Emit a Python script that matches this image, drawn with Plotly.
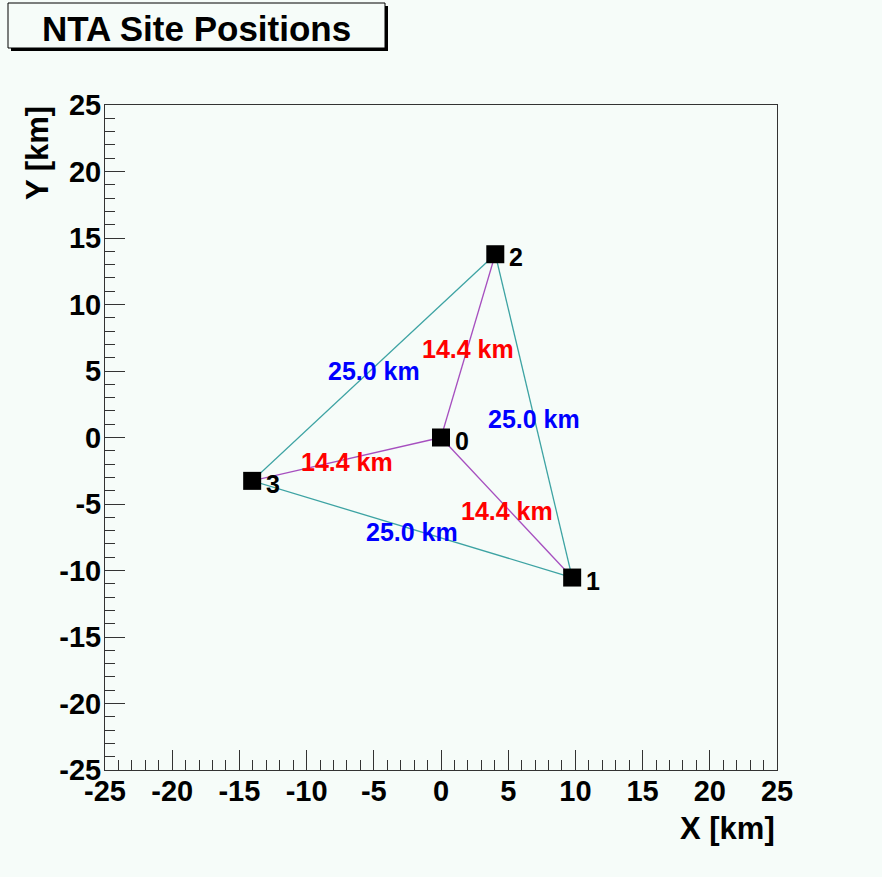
import plotly.graph_objects as go

# ---- data ----
site_ids = ["0", "1", "2", "3"]
site_x = [0.0, 9.76, 4.04, -14.05]
site_y = [0.0, -10.53, 13.78, -3.26]

outer_edges = [(3, 2), (2, 1), (3, 1)]
outer_labels = ["25.0 km", "25.0 km", "25.0 km"]
inner_edges = [(0, 2), (0, 3), (0, 1)]
inner_labels = ["14.4 km", "14.4 km", "14.4 km"]

tick_vals = [-25, -20, -15, -10, -5, 0, 5, 10, 15, 20, 25]
tick_text = ["-25", "-20", "-15", "-10", "-5", "0", "5", "10", "15", "20", "25"]

title_text = "NTA Site Positions"
x_title = "X [km]"
y_title = "Y [km]"

# ---- styling ----
BG = "#f6fcf9"
TEAL = "#3da3a3"
PURPLE = "#a64fbf"
FONT = "Liberation Sans"
W, H = 882, 877
L, R, T, B = 105, 777, 105, 770  # plot area in pixels


def px(xp):
    return (xp - L) / (R - L)


def py(yp):
    return (B - yp) / (B - T)


fig = go.Figure()


def edge_trace(edges, color):
    xs, ys = [], []
    for a, b in edges:
        xs += [site_x[a], site_x[b], None]
        ys += [site_y[a], site_y[b], None]
    return go.Scatter(x=xs, y=ys, mode="lines", line=dict(color=color, width=1.3),
                      hoverinfo="skip", showlegend=False)


fig.add_trace(edge_trace(outer_edges, TEAL))
fig.add_trace(edge_trace(inner_edges, PURPLE))
fig.add_trace(go.Scatter(x=site_x, y=site_y, mode="markers",
                         marker=dict(symbol="square", size=18, color="black",
                                     line=dict(width=0)),
                         showlegend=False))

annotations = []
for i, lab in enumerate(site_ids):
    annotations.append(dict(x=site_x[i], y=site_y[i], xref="x", yref="y", text=lab,
                            showarrow=False, xshift=21, yshift=-3,
                            font=dict(family=FONT, size=25, color="black", weight="bold")))


def edge_labels(edges, labels, color):
    for (a, b), lab in zip(edges, labels):
        annotations.append(dict(x=(site_x[a] + site_x[b]) / 2, y=(site_y[a] + site_y[b]) / 2,
                                xref="x", yref="y", text=lab, showarrow=False, yshift=-3,
                                font=dict(family=FONT, size=25, color=color, weight="bold")))


edge_labels(outer_edges, outer_labels, "#0000ff")
edge_labels(inner_edges, inner_labels, "#ff0000")

# title
annotations.append(dict(x=px(196), y=py(28), xref="paper", yref="paper", text=title_text,
                        showarrow=False, xanchor="center", yanchor="middle",
                        font=dict(family=FONT, size=35, color="black", weight="bold")))
# axis titles
annotations.append(dict(x=px(777), y=py(828), xref="paper", yref="paper", text=x_title,
                        showarrow=False, xanchor="right", yanchor="middle",
                        font=dict(family=FONT, size=31, color="black", weight="bold")))
annotations.append(dict(x=px(38), y=py(104), xref="paper", yref="paper", text=y_title,
                        showarrow=False, xanchor="center", yanchor="top", textangle=-90,
                        font=dict(family=FONT, size=31, color="black", weight="bold")))

shapes = [
    dict(type="rect", xref="paper", yref="paper", x0=px(11), x1=px(388), y0=py(51), y1=py(6),
         fillcolor="black", line=dict(width=0), layer="above"),
    dict(type="rect", xref="paper", yref="paper", x0=px(8), x1=px(385), y0=py(48), y1=py(3),
         fillcolor=BG, line=dict(color="black", width=1), layer="above"),
]

axis_common = dict(
    range=[-25, 25], tickmode="array", tickvals=tick_vals, ticktext=tick_text,
    ticks="inside", ticklen=20, tickwidth=1,
    tickcolor="#333333", showline=True, linecolor="#333333", linewidth=1, mirror=True,
    showgrid=False, zeroline=False, fixedrange=True,
    tickfont=dict(family=FONT, size=29, color="black", weight="bold"),
    minor=dict(dtick=1, tick0=-25, ticks="inside", ticklen=10, tickwidth=1, tickcolor="#333333",
               showgrid=False),
)

fig.update_layout(
    width=W, height=H, autosize=False,
    margin=dict(l=L, r=W - R, t=T, b=H - B, pad=0),
    paper_bgcolor=BG, plot_bgcolor=BG,
    xaxis=dict(**axis_common, ticklabelstandoff=-5),
    yaxis=dict(**axis_common, ticklabelstandoff=-3),
    annotations=annotations, shapes=shapes, showlegend=False,
)

fig.write_html("out.html", config={"displayModeBar": False},
               post_script="document.body.style.margin='0';"
                           "document.body.style.background='" + BG + "';")
